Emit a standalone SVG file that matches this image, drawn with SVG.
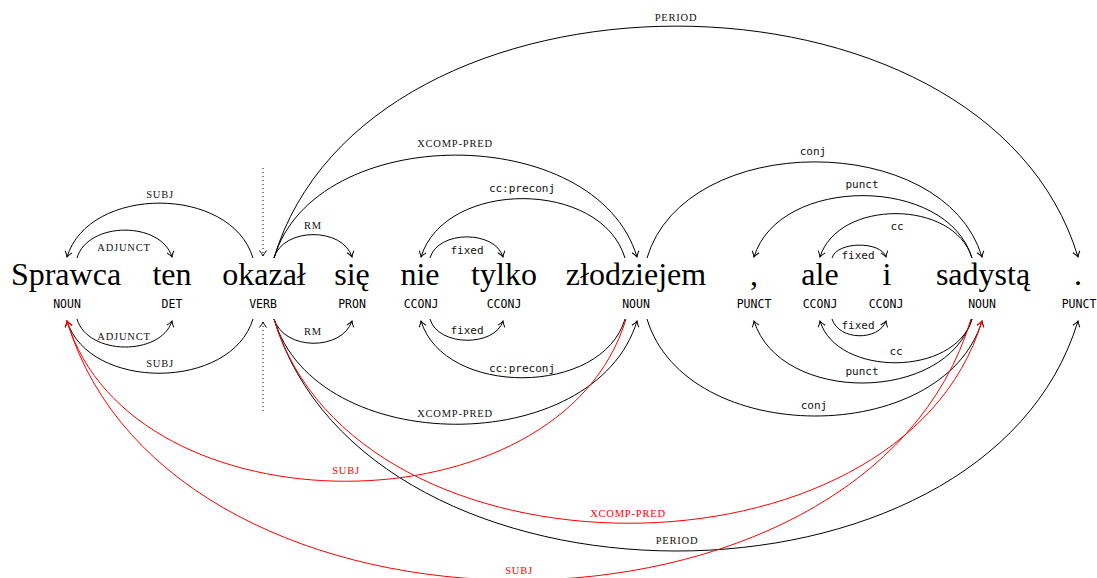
<svg xmlns="http://www.w3.org/2000/svg" width="1097" height="578" viewBox="0 0 1097 578">
<style>
.w{font-family:"Liberation Serif",serif;font-size:32px;text-anchor:middle;fill:#000}
.pos{font-family:"DejaVu Sans Mono",monospace;font-size:11.5px;text-anchor:middle;fill:#000}
.lc{font-family:"Liberation Serif",serif;font-size:10.5px;letter-spacing:0.8px;text-anchor:middle;fill:#111}
.lm{font-family:"DejaVu Sans Mono",monospace;font-size:11px;text-anchor:middle;fill:#111}
.red{fill:#ff0000}
.e{fill:none;stroke:#000;stroke-width:1;marker-end:url(#ah)}
.er{fill:none;stroke:#ff0000;stroke-width:1;marker-end:url(#ahr)}
.root{fill:none;stroke:#000;stroke-width:1;stroke-dasharray:1 3;marker-end:url(#ah)}
</style>
<defs>
<marker id="ah" viewBox="-8 -6 12 12" markerWidth="12" markerHeight="12" refX="0" refY="0" orient="auto" markerUnits="userSpaceOnUse">
<path d="M-5.5,-3.6 Q-2.2,-0.9 0,0 Q-2.2,0.9 -5.5,3.6" fill="none" stroke="#000" stroke-width="1"/>
</marker>
<marker id="ahr" viewBox="-8 -6 12 12" markerWidth="12" markerHeight="12" refX="0" refY="0" orient="auto" markerUnits="userSpaceOnUse">
<path d="M-5.5,-3.6 Q-2.2,-0.9 0,0 Q-2.2,0.9 -5.5,3.6" fill="none" stroke="#ff0000" stroke-width="1"/>
</marker>
</defs>
<rect width="1097" height="578" fill="#fff"/>

<g id="n1"><text class="w" x="66" y="285">Sprawca</text><text class="pos" x="67" y="308">NOUN</text></g>
<g id="n2"><text class="w" x="172" y="285">ten</text><text class="pos" x="172" y="308">DET</text></g>
<g id="n3"><text class="w" x="264" y="285">okazał</text><text class="pos" x="263" y="308">VERB</text></g>
<g id="n4"><text class="w" x="352" y="285">się</text><text class="pos" x="352" y="308">PRON</text></g>
<g id="n5"><text class="w" x="420" y="285">nie</text><text class="pos" x="421" y="308">CCONJ</text></g>
<g id="n6"><text class="w" x="504" y="285">tylko</text><text class="pos" x="504" y="308">CCONJ</text></g>
<g id="n7"><text class="w" x="636" y="285">złodziejem</text><text class="pos" x="636" y="308">NOUN</text></g>
<g id="n8"><text class="w" x="754" y="285">,</text><text class="pos" x="754" y="308">PUNCT</text></g>
<g id="n9"><text class="w" x="820" y="285">ale</text><text class="pos" x="820" y="308">CCONJ</text></g>
<g id="n10"><text class="w" x="887" y="285">i</text><text class="pos" x="886" y="308">CCONJ</text></g>
<g id="n11"><text class="w" x="983" y="285">sadystą</text><text class="pos" x="982" y="308">NOUN</text></g>
<g id="n12"><text class="w" x="1078" y="285">.</text><text class="pos" x="1079" y="308">PUNCT</text></g>

<g id="connectors">
<!-- root -->
<path class="root" d="M263 168 L263 256"/>
<path class="root" d="M263 411 L263 322"/>
<!-- top arcs -->
<path class="e" d="M253 258 C231 185 89 185 67 257"/>
<path class="e" d="M77 258 C88 221 161 221 172 257"/>
<path class="e" d="M274 258 C283 227 343 227 352 257"/>
<path class="e" d="M274 258 C315 121 596 121 637 257"/>
<path class="e" d="M274 258 C367 -51 985 -51 1078 257"/>
<path class="e" d="M625 258 C601 179 445 179 421 257"/>
<path class="e" d="M430 258 C438 230 495 230 503 257"/>
<path class="e" d="M647 258 C685 130 944 130 982 257"/>
<path class="e" d="M972 258 C947 175 779 175 754 257"/>
<path class="e" d="M972 258 C954 199 838 199 820 257"/>
<path class="e" d="M832 258 C837 241 881 241 886 257"/>
<!-- bottom arcs -->
<path class="e" d="M77 319 C88 356 161 356 172 321"/>
<path class="e" d="M253 319 C231 391 89 391 67 321"/>
<path class="e" d="M274 319 C284 351 342 351 352 321"/>
<path class="e" d="M430 319 C438 347 495 347 503 321"/>
<path class="e" d="M625 319 C602 397 444 397 421 321"/>
<path class="e" d="M274 319 C316 459 595 459 637 321"/>
<path class="e" d="M647 319 C686 448 943 448 982 321"/>
<path class="e" d="M972 319 C946 404 780 404 754 321"/>
<path class="e" d="M972 319 C955 377 837 377 820 321"/>
<path class="e" d="M832 319 C839 341 879 341 886 321"/>
<path class="e" d="M274 319 C367 628 985 628 1078 321"/>
<path class="er" d="M274 319 C356 591 900 591 982 321"/>
<path class="er" d="M626 319 C561 535 132 535 67 321"/>
<path class="er" d="M971 319 C867 667 171 667 67 321"/>
<!-- labels top -->
<text class="lc" x="160" y="197.5">SUBJ</text>
<text class="lc" x="124" y="250.5">ADJUNCT</text>
<text class="lc" x="313" y="229">RM</text>
<text class="lc" x="455" y="146.5">XCOMP-PRED</text>
<text class="lc" x="676" y="20.5">PERIOD</text>
<text class="lm" x="522" y="192">cc:preconj</text>
<text class="lm" x="467" y="254">fixed</text>
<text class="lm" x="813" y="155">conj</text>
<text class="lm" x="862" y="188">punct</text>
<text class="lm" x="897" y="230">cc</text>
<text class="lm" x="858" y="259">fixed</text>
<!-- labels bottom -->
<text class="lc" x="124" y="339.5">ADJUNCT</text>
<text class="lc" x="160" y="366.5">SUBJ</text>
<text class="lc" x="313" y="335">RM</text>
<text class="lm" x="467" y="334">fixed</text>
<text class="lm" x="522" y="372">cc:preconj</text>
<text class="lc" x="455" y="416.5">XCOMP-PRED</text>
<text class="lm" x="814" y="409">conj</text>
<text class="lm" x="862" y="375">punct</text>
<text class="lm" x="896" y="355">cc</text>
<text class="lm" x="858" y="329">fixed</text>
<text class="lc" x="677" y="543.5">PERIOD</text>
<text class="lc red" x="628" y="516.5">XCOMP-PRED</text>
<text class="lc red" x="346" y="473.5">SUBJ</text>
<text class="lc red" x="519" y="573.5">SUBJ</text>
</g>
</svg>
